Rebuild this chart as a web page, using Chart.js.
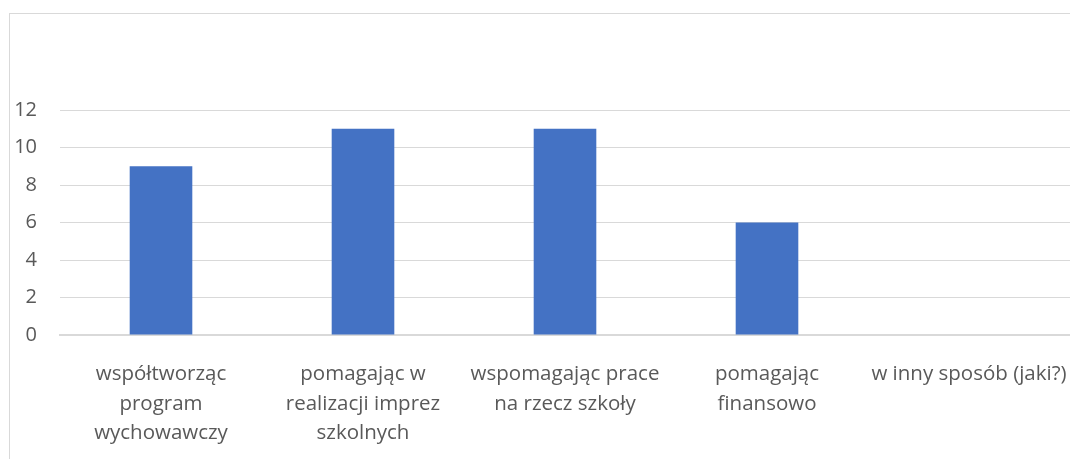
<!DOCTYPE html>
<html>
<head>
<meta charset="utf-8">
<script src="https://cdn.jsdelivr.net/npm/chart.js@4"></script>
<style>
  html, body { margin: 0; padding: 0; background: #fff; overflow: hidden; }
  #wrap { position: absolute; left: 0; top: 0; width: 1070px; height: 459px; }
</style>
</head>
<body>
<div id="wrap"><canvas id="chart" width="1070" height="459"></canvas></div>
<script>
  // dane z wykresu
  const categories = [
    ['współtworząc', 'program', 'wychowawczy'],
    ['pomagając w', 'realizacji imprez', 'szkolnych'],
    ['wspomagając prace', 'na rzecz szkoły'],
    ['pomagając', 'finansowo'],
    'w inny sposób (jaki?)'
  ];
  const values = [9, 11, 11, 6, 0];
  const yTicks = [0, 2, 4, 6, 8, 10, 12];

  // ramka wykresu
  const frame = {
    id: 'frame',
    beforeDraw(chart) {
      const c = chart.ctx;
      c.save();
      c.strokeStyle = '#d9d9d9';
      c.lineWidth = 1;
      c.strokeRect(9.5, 13.5, 2000, 2000);
      c.restore();
    }
  };

  const ctx = document.getElementById('chart').getContext('2d');
  new Chart(ctx, {
    type: 'bar',
    data: {
      labels: categories,
      datasets: [{
        data: values,
        backgroundColor: '#4472C4',
        categoryPercentage: 1,
        barPercentage: 0.31
      }]
    },
    plugins: [frame],
    options: {
      responsive: false,
      animation: false,
      layout: { padding: { top: 110, left: 0, right: 0, bottom: 0 } },
      plugins: {
        legend: { display: false },
        tooltip: { enabled: false }
      },
      scales: {
        y: {
          min: 0,
          max: 12,
          afterBuildTicks(axis) {
            axis.ticks = yTicks.map(v => ({ value: v }));
          },
          afterFit(axis) { axis.width = 60; },
          border: { display: false },
          grid: { color: '#d9d9d9', lineWidth: 1, drawTicks: false },
          ticks: {
            padding: 23,
            color: '#595959',
            font: { family: 'Open Sans', size: 20 }
          }
        },
        x: {
          afterFit(axis) {
            axis.height = 124;
            axis.paddingLeft = 0;
            axis.paddingRight = 0;
          },
          border: { display: true, color: '#d9d9d9', width: 2 },
          grid: { display: false },
          ticks: {
            padding: 17,
            maxRotation: 0,
            autoSkip: false,
            color: '#595959',
            font: { family: 'Open Sans', size: 20.5, lineHeight: 1.42 }
          }
        }
      }
    }
  });
</script>
</body>
</html>
